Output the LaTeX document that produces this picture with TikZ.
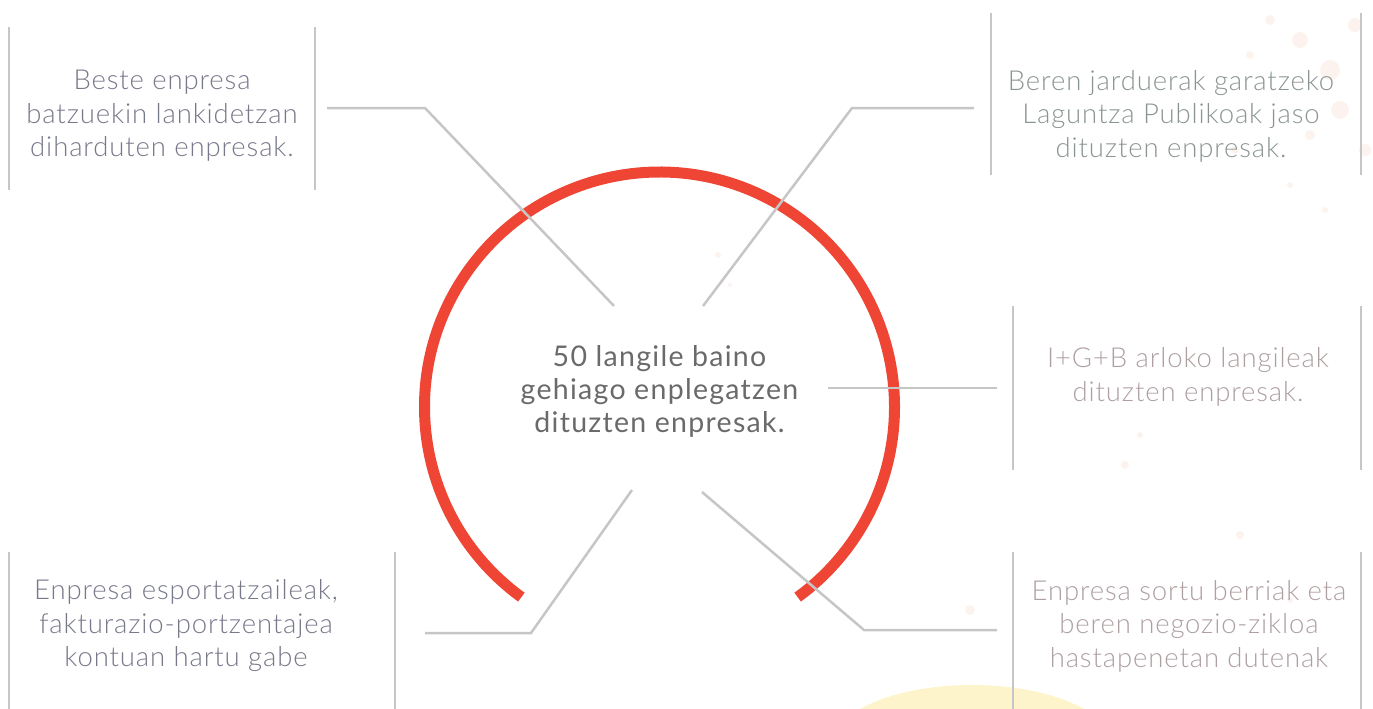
\documentclass[tikz,border=0pt]{standalone}
\usepackage{fontspec}
\setmainfont{Lato}[LetterSpace=4.5]
\newfontfamily\lightfont{Lato Light}[LetterSpace=3.2]
\definecolor{arcred}{HTML}{EF4535}
\definecolor{linegray}{HTML}{C6C6C6}
\definecolor{txtblue}{HTML}{77788A}
\definecolor{txtgreen}{HTML}{8A9591}
\definecolor{txtpink}{HTML}{AE9FA1}
\definecolor{txtcenter}{HTML}{6B6969}
\definecolor{splat}{HTML}{FCF3EE}
\definecolor{sunyellow}{HTML}{FEF4CC}
\begin{document}
\begin{tikzpicture}[x=1pt,y=-1pt,
  sep/.style={draw=linegray,line width=2.5pt},
  conn/.style={draw=linegray,line width=2.5pt},
  label/.style={align=center,font=\lightfont\fontsize{27.5}{33.5}\selectfont,inner sep=0pt},
  centertext/.style={align=center,font=\fontsize{28.5}{33}\selectfont,inner sep=0pt,text=txtcenter}]
\useasboundingbox (0,0) rectangle (1373,709);
% background decorations
\fill[sunyellow] (972,745) ellipse [x radius=140, y radius=60];
\foreach \p/\r in {{(1300,40)}/8,{(1330,70)}/10,{(1355,25)}/7,{(1270,20)}/5,{(1340,110)}/9,{(1365,150)}/6,{(1250,55)}/4,{(1310,135)}/5,{(1235,150)}/4,{(1290,185)}/3,{(1325,210)}/3,{(1125,465)}/4,{(1140,435)}/3,{(718,255)}/3,{(730,285)}/2,{(1240,535)}/4,{(1290,600)}/3,{(970,610)}/5}
  \fill[splat] \p circle (\r);
% red arc
\coordinate (C) at (659.5,407);
\draw[arcred,line width=11pt] (C) ++(126:235) arc[start angle=126, end angle=414, radius=235];
% separators
\draw[sep] (9,27) -- (9,190);
\draw[sep] (315,27) -- (315,190);
\draw[sep] (991,13) -- (991,175);
\draw[sep] (1361,13) -- (1361,175);
\draw[sep] (1013,306) -- (1013,470);
\draw[sep] (1361,306) -- (1361,470);
\draw[sep] (9,552) -- (9,709);
\draw[sep] (395,552) -- (395,709);
\draw[sep] (1013,552) -- (1013,709);
\draw[sep] (1361,552) -- (1361,709);
% texts
\node[label,text=txtblue] (tl) at (162,116) {Beste enpresa\\batzuekin lankidetzan\\diharduten enpresak.};
\node[label,text=txtgreen] (tr) at (1171,116) {Beren jarduerak garatzeko\\Laguntza Publikoak jaso\\dituzten enpresak.};
\node[label,text=txtpink] (mr) at (1188,377) {I+G+B arloko langileak\\dituzten enpresak.};
\node[label,text=txtblue] (bl) at (186,626) {Enpresa esportatzaileak,\\fakturazio-portzentajea\\kontuan hartu gabe};
\node[label,text=txtpink] (br) at (1189,626) {Enpresa sortu berriak eta\\beren negozio-zikloa\\hastapenetan dutenak};
\node[centertext] (ct) at (659.5,391) {50 langile baino\\gehiago enplegatzen\\dituzten enpresak.};
% connector anchor points
\coordinate (tlA) at (327,108);
\coordinate (tlB) at (425,108);
\coordinate (tlC) at (614,306);
\coordinate (trA) at (974,108);
\coordinate (trB) at (852,108);
\coordinate (trC) at (703,306);
\coordinate (mrA) at (997,388);
\coordinate (mrC) at (828,388);
\coordinate (blA) at (425,633);
\coordinate (blB) at (531,633);
\coordinate (blC) at (632,490);
\coordinate (brA) at (997,630);
\coordinate (brB) at (864,630);
\coordinate (brC) at (702,492);
\draw[conn] (tlA) -- (tlB) -- (tlC);
\draw[conn] (trA) -- (trB) -- (trC);
\draw[conn] (mrA) -- (mrC);
\draw[conn] (blA) -- (blB) -- (blC);
\draw[conn] (brA) -- (brB) -- (brC);
\end{tikzpicture}
\end{document}
